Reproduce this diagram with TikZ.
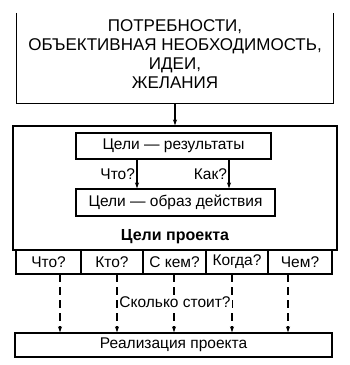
\documentclass[tikz,border=0pt]{standalone}
\usepackage{fontspec}
\setmainfont{Liberation Sans}
\usetikzlibrary{arrows.meta}
\begin{document}
\begin{tikzpicture}[x=1pt,y=-1pt,
  ln/.style={line width=1.1pt},
  box/.style={draw,ln,inner sep=0pt,anchor=center},
  txt/.style={font=\fontsize{15.5}{17}\selectfont},
  arr/.style={ln,-{Stealth[length=6pt,width=4pt]}},
  darr/.style={ln,dash pattern=on 8pt off 5pt,-{Stealth[length=6pt,width=4pt]}}]
\useasboundingbox (0,0) rectangle (350,365);
% top open box
\node[inner sep=0pt,minimum width=316pt,minimum height=90pt] (top) at (175,58) {};
\draw[ln] (top.north west) -- (top.south west) -- (top.south east) -- (top.north east);
\node[align=center,font=\fontsize{17}{19}\selectfont] (toptxt) at (175,54)
  {ПОТРЕБНОСТИ,\\ОБЪЕКТИВНАЯ НЕОБХОДИМОСТЬ,\\ИДЕИ,\\ЖЕЛАНИЯ};
% big box
\node[box,minimum width=324pt,minimum height=124pt] (proj) at (175,188) {};
\draw[arr] (top.south) -- (proj.north);
% inner boxes
\node[box,txt,minimum width=195pt,minimum height=26pt] (res) at (173.5,146) {Цели — результаты};
\node[box,txt,minimum width=199pt,minimum height=27pt] (obr) at (175.5,202.5) {Цели — образ действия};
\coordinate (a1) at (137,159);
\coordinate (a2) at (229,159);
\draw[arr] (a1) -- (a1 |- obr.north) node[midway,left,txt,inner sep=1.5pt] {Что?};
\draw[arr] (a2) -- (a2 |- obr.north) node[midway,left,txt,inner sep=1.5pt] {Как?};
\node[font=\fontsize{16}{18}\selectfont\bfseries] (cp) at (175,237) {Цели проекта};
% row of cells
\node[box,txt,minimum width=65pt,minimum height=24pt] (c1) at (48.5,262) {Что?};
\node[box,txt,minimum width=62pt,minimum height=24pt] (c2) at (112,262) {Кто?};
\node[box,txt,minimum width=63pt,minimum height=24pt] (c3) at (174.5,262) {С кем?};
\node[box,txt,minimum width=62pt,minimum height=24pt] (c4) at (237,262) {Когда?};
\node[box,txt,minimum width=64pt,minimum height=24pt] (c5) at (300,262) {Чем?};
% bottom box
\node[box,txt,minimum width=317pt,minimum height=24pt] (real) at (173.5,345) {Реализация проекта};
\coordinate (d1) at (60,274);
\coordinate (d2) at (117,274);
\coordinate (d3) at (174,274);
\coordinate (d4) at (232,274);
\coordinate (d5) at (288,274);
\foreach \d in {d1,d2,d3,d4,d5} \draw[darr] (\d) -- (\d |- real.north);
\node[txt,fill=white,inner sep=1pt] (cost) at (175,302) {Сколько стоит?};
\end{tikzpicture}
\end{document}
